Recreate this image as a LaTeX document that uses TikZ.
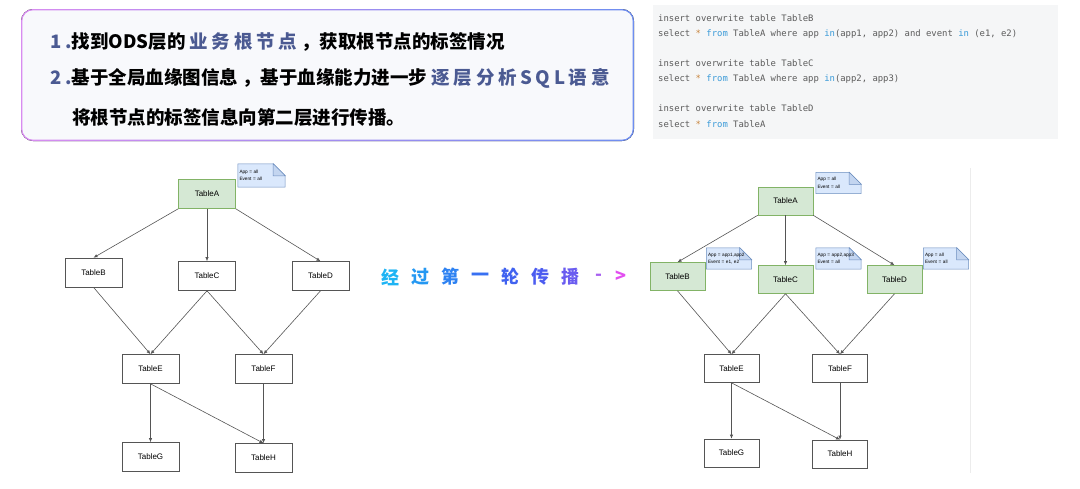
\documentclass[tikz,border=0pt]{standalone}
\usepackage{fontspec}
\setmainfont{Liberation Sans}
\newfontfamily\cjk{Noto Sans CJK SC}
\newfontfamily\codefont{DejaVu Sans Mono}
\usetikzlibrary{arrows.meta,backgrounds}
\newcommand\spaced{\addfontfeature{LetterSpace=20}}

\definecolor{hdblue}{HTML}{4B5A92}
\definecolor{hdbg}{HTML}{F8F9FC}
\definecolor{bordpink}{HTML}{D88CF0}
\definecolor{bordblue}{HTML}{6E8EF0}
\definecolor{codebg}{HTML}{F5F6F7}
\definecolor{codegray}{HTML}{5C5C5C}
\definecolor{kwblue}{HTML}{3A9AD8}
\definecolor{starc}{HTML}{C8843C}
\definecolor{hitfill}{HTML}{D5E8D4}
\definecolor{hitline}{HTML}{82B366}
\definecolor{tagfill}{HTML}{DAE8FC}
\definecolor{tagline}{HTML}{6C8EBF}
\definecolor{tagfold}{HTML}{C3D5F0}
\definecolor{lnkgray}{HTML}{555555}
\definecolor{sepgray}{HTML}{ECECEC}

\begin{document}
\begin{tikzpicture}[x=1pt, y=-1pt, >={Latex[length=4pt,width=3.4pt]},
    tbl/.style={draw=lnkgray, line width=0.6pt, minimum width=57pt, minimum height=29pt,
      inner sep=0pt, font=\fontsize{8}{9}\selectfont},
    hit/.style={tbl, fill=hitfill, draw=hitline},
    tag/.style={inner xsep=1.5pt, inner ysep=0pt, text width=42pt, minimum height=21pt,
      align=left, font=\fontsize{4.7}{7.5}\selectfont},
    lnk/.style={->, draw=lnkgray, line width=0.6pt},
    hd/.style={anchor=west, inner sep=0pt, font=\cjk\bfseries\fontsize{18.5}{22}\selectfont},
    code/.style={anchor=west, inner sep=0pt, text=codegray, font=\codefont\fontsize{8.9}{10}\selectfont},
    mid/.style={inner sep=0pt, font=\cjk\bfseries\fontsize{18}{21}\selectfont}]
  \useasboundingbox (0,0) rectangle (1080,488);

  % header box
  \fill[left color=bordpink, right color=bordblue, rounded corners=12pt] (21,9) rectangle (634,141);
  \fill[hdbg, rounded corners=11pt] (22.3,10.3) rectangle (632.7,139.7);
  \node[hd] (h1) at (50,42) {{\addfontfeature{LetterSpace=20}\color{hdblue}1.}找到ODS层的 {\spaced\color{hdblue}业务根节点} ，获取根节点的标签情况};
  \node[hd] (h2) at (50,78) {{\addfontfeature{LetterSpace=20}\color{hdblue}2.}基于全局血缘图信息 ，基于血缘能力进一步 {\spaced\color{hdblue}逐层分析SQL语意}};
  \node[hd] (h3) at (72,117) {将根节点的标签信息向第二层进行传播。};

  % sql
  \fill[codebg] (653,5) rectangle (1058,139);
  \node[code] (l1) at (658,18) {insert overwrite table TableB};
  \node[code] (l2) at (658,34) {select \textcolor{starc}{*} \textcolor{kwblue}{from} TableA where app \textcolor{kwblue}{in}(app1, app2) and event \textcolor{kwblue}{in} (e1, e2)};
  \node[code] (l3) at (658,63) {insert overwrite table TableC};
  \node[code] (l4) at (658,79) {select \textcolor{starc}{*} \textcolor{kwblue}{from} TableA where app \textcolor{kwblue}{in}(app2, app3)};
  \node[code] (l5) at (658,108) {insert overwrite table TableD};
  \node[code] (l6) at (658,124) {select \textcolor{starc}{*} \textcolor{kwblue}{from} TableA};

  % before
  \node[hit] (A1) at (207,194) {TableA};
  \node[tbl] (B1) at (93.5,272.5) {TableB};
  \node[tbl] (C1) at (207,276) {TableC};
  \node[tbl] (D1) at (320.5,276) {TableD};
  \node[tbl] (E1) at (150.5,369) {TableE};
  \node[tbl] (F1) at (263.5,369) {TableF};
  \node[tbl] (G1) at (150.5,457) {TableG};
  \node[tbl] (H1) at (263.5,458) {TableH};
  \node[tag, text width=44pt, minimum height=23pt] (nA1) at (261.5,175.5) {App = all\\Event = all};

  % middle
  \foreach \ch/\cx/\col [count=\i] in {经/390/1EB4F4, 过/420/2598F2, 第/450/2E82F2, 一/480/3870F2,
      轮/510/4062F0, 传/540/4C5CF0, 播/570/6A5CF0, -/599/A860F0, >/621/E24EF0}
    \node[mid] (m\i) at (\cx,277) {\color[HTML]{\col}\ch};

  % after
  \begin{scope}[tbl/.append style={minimum width=55pt, minimum height=28pt}]
    \node[hit] (A2) at (785.5,201) {TableA};
    \node[hit] (B2) at (677.5,276.5) {TableB};
    \node[hit] (C2) at (785.5,279.5) {TableC};
    \node[hit] (D2) at (894.5,279.5) {TableD};
    \node[tbl] (E2) at (731.5,368.5) {TableE};
    \node[tbl] (F2) at (840,368.5) {TableF};
    \node[tbl] (G2) at (731.5,453) {TableG};
    \node[tbl] (H2) at (840,454) {TableH};
  \end{scope}
  \node[tag] (nA2) at (838.5,183) {App = all\\Event = all};
  \node[tag] (nB2) at (729,258.5) {App = app1,app2\\Event = e1, e2};
  \node[tag] (nC2) at (838.5,258.5) {App = app2,app3\\Event = all};
  \node[tag] (nD2) at (946,258.5) {App = all\\Event = all};
  \draw[sepgray, line width=1pt] (970,168) -- (970,473);

  % note outlines
  \begin{scope}[on background layer]
    \foreach \n in {nA1, nA2, nB2, nC2, nD2} {
      \filldraw[fill=tagfill, draw=tagline, line width=0.5pt] (\n.north west) -- ([xshift=-12pt]\n.north east)
        -- ([yshift=-12pt]\n.north east) -- (\n.south east) -- (\n.south west) -- cycle;
      \filldraw[fill=tagfold, draw=tagline, line width=0.5pt] ([xshift=-12pt]\n.north east)
        -- ([xshift=-12pt,yshift=-12pt]\n.north east) -- ([yshift=-12pt]\n.north east) -- cycle;
    }
  \end{scope}

  % links
  \foreach \k in {1,2} {
    \draw[lnk] (A\k.south west) -- (B\k.north);
    \draw[lnk] (A\k.south east) -- (D\k.north);
    \foreach \s/\t in {A/C, B/E, C/E, C/F, D/F, E/G, E/H, F/H}
      \draw[lnk] (\s\k.south) -- (\t\k.north);
  }
\end{tikzpicture}
\end{document}
